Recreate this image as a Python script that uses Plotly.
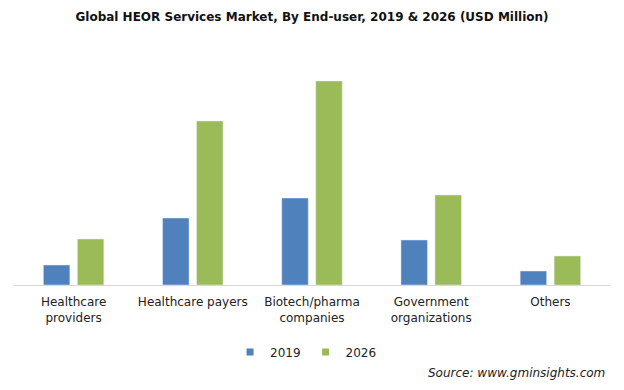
import plotly.graph_objects as go

categories = ["Healthcare<br>providers", "Healthcare payers", "Biotech/pharma<br>companies",
              "Government<br>organizations", "Others"]
values_2019 = [20, 67, 87, 45, 14]
values_2026 = [46, 164, 204, 90, 29]
series_names = ["2019", "2026"]
colors = ["#4f81bd", "#9bbb59"]

fig = go.Figure()
for name, vals, col in zip(series_names, [values_2019, values_2026], colors):
    fig.add_trace(go.Bar(x=categories, y=vals, name=name, marker_color=col,
                         showlegend=False))
# legend entries with small square markers
for name, col in zip(series_names, colors):
    fig.add_trace(go.Scatter(x=[None], y=[None], mode="markers", name=name,
                             marker=dict(symbol="square", size=7, color=col)))

fig.update_layout(
    width=624, height=390,
    margin=dict(l=6, r=22, t=57, b=113),
    paper_bgcolor="white", plot_bgcolor="white",
    barmode="group", bargap=0.43, bargroupgap=0.22,
    font=dict(family="DejaVu Sans", size=12, color="#222"),
    title=dict(text="<b>Global HEOR Services Market, By End-user, 2019 &amp; 2026 (USD Million)</b>",
               x=(312 - 8) / 624, xanchor="center", y=1 - (17 - 8) / 390, yanchor="middle",
               font=dict(family="DejaVu Sans", size=12, color="#111")),
    legend=dict(orientation="h", x=0.49, xanchor="center", y=-0.305, yanchor="middle",
                font=dict(size=12, color="#222"), itemwidth=30),
    showlegend=True,
)
fig.update_xaxes(showline=True, linecolor="#d9d9d9", linewidth=1, ticks="",
                 tickfont=dict(size=12, color="#222"), showgrid=False,
                 ticklabelstandoff=6)
fig.update_yaxes(visible=False, range=[0, 220], showgrid=False)

fig.add_annotation(text="<i>Source: www.gminsights.com</i>", xref="paper", yref="paper",
                   x=(607 - 14) / 596, y=(285 - 373) / 220, xanchor="right", yanchor="middle",
                   showarrow=False, font=dict(size=12, color="#222"))

fig.write_html("out.html")
